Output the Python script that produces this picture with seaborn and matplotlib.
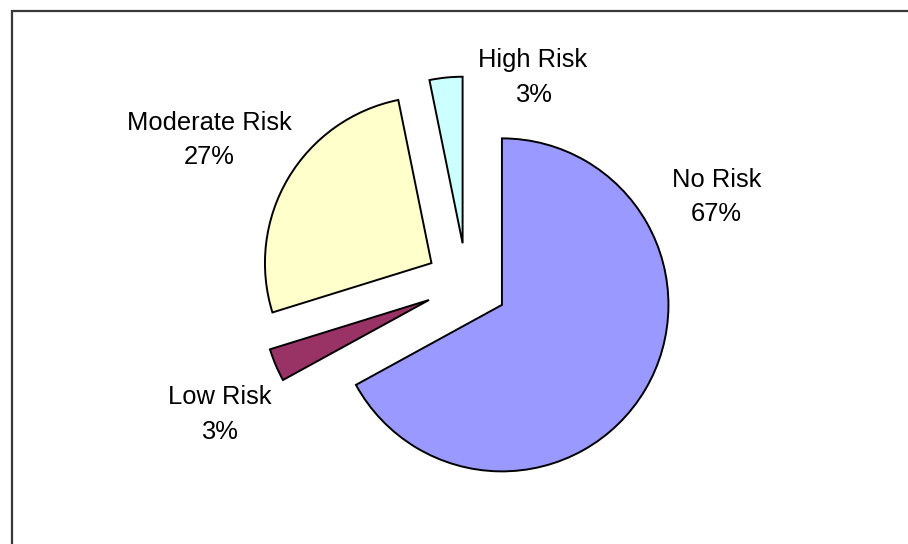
import matplotlib
matplotlib.use("Agg")
import matplotlib.pyplot as plt
import seaborn as sns
import numpy as np
from matplotlib.lines import Line2D

# ---- data ----
categories = ["No Risk", "Low Risk", "Moderate Risk", "High Risk"]
counts = [63, 3, 25, 3]
colors_hex = ["#9999FF", "#993366", "#FFFFCC", "#CCFFFF"]

# ---- layout (label anchors in pie-radius units, relative to pie centre) ----
label_anchor = [(1.499, 0.479), (-1.482, -0.827), (-1.544, 0.823), (0.398, 1.198)]

sns.set_theme(style="white")
plt.rcParams['font.family'] = ['Liberation Sans', 'DejaVu Sans']

W, H, DPI = 908, 544, 100
fig = plt.figure(figsize=(W / DPI, H / DPI), dpi=DPI)
fig.patch.set_facecolor("white")
ax = fig.add_axes([0, 0, 1, 1])

R_PX = 166.5
CX, CY = 466.7, 544 - 284.0  # pie centre in pixels (from bottom-left)

palette = sns.color_palette(colors_hex)
total = sum(counts)
pcts = [100.0 * c / total for c in counts]

wedges, _ = ax.pie(
    counts,
    colors=palette,
    startangle=90,
    counterclock=False,
    explode=[0.246] * len(counts),
    radius=1.0,
    wedgeprops=dict(edgecolor="black", linewidth=1.4, joinstyle="miter"),
)

ax.set_xlim(-CX / R_PX, (W - CX) / R_PX)
ax.set_ylim(-CY / R_PX, (H - CY) / R_PX)
ax.set_aspect("auto")
ax.axis("off")

dy = 17.25 / R_PX
for name, p, (lx, ly) in zip(categories, pcts, label_anchor):
    ax.text(lx, ly + dy, name, ha="center", va="baseline", fontsize=18.4, color="black")
    ax.text(lx, ly - dy, f"{p:.0f}%", ha="center", va="baseline", fontsize=18.4, color="black")

# chart frame (clipped at right / bottom like the reference)
fx0 = 12.0 / W
fy0 = 1 - 11.0 / H
fig.add_artist(Line2D([fx0, fx0, 1.0], [0.0, fy0, fy0], transform=fig.transFigure,
                      color="#383838", linewidth=1.6, solid_joinstyle="miter"))

fig.savefig("out.png", dpi=DPI, facecolor="white")
